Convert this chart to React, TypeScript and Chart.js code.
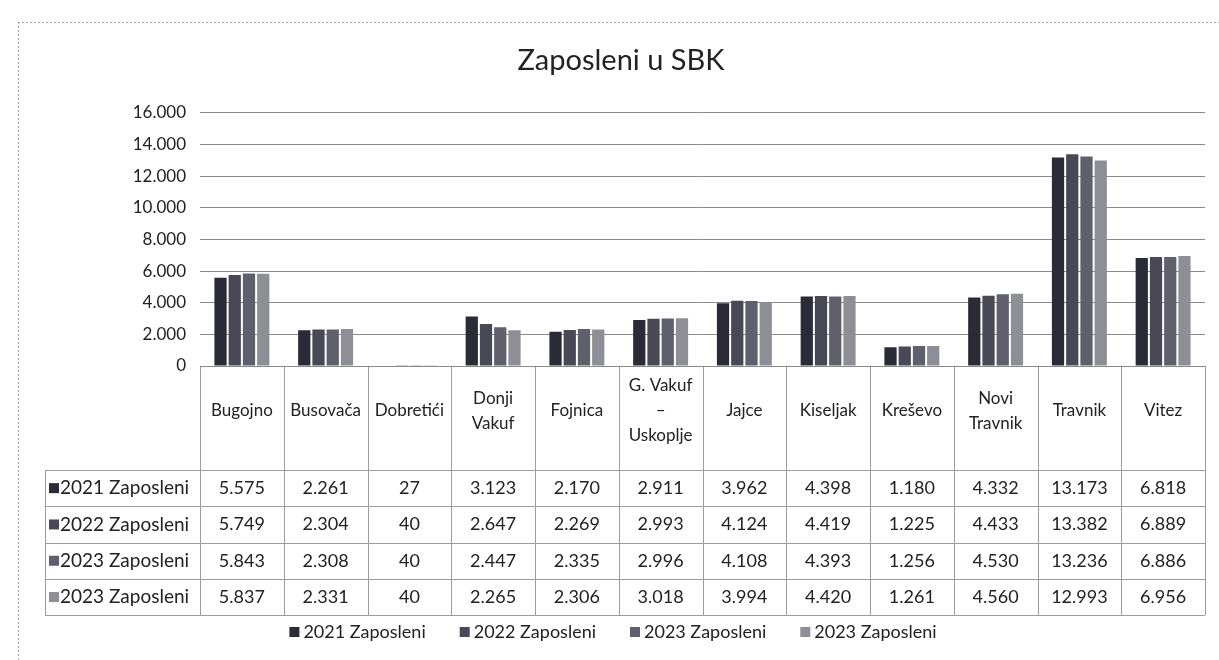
import React, { useEffect, useRef } from "react";
import { Chart, registerables } from "chart.js";

Chart.register(...registerables);

const categories: string[][] = [
  ["Bugojno"],
  ["Busovača"],
  ["Dobretići"],
  ["Donji", "Vakuf"],
  ["Fojnica"],
  ["G. Vakuf", "–", "Uskoplje"],
  ["Jajce"],
  ["Kiseljak"],
  ["Kreševo"],
  ["Novi", "Travnik"],
  ["Travnik"],
  ["Vitez"],
];
const seriesNames = ["2021 Zaposleni", "2022 Zaposleni", "2023 Zaposleni", "2023 Zaposleni"];
const values2021 = [5575, 2261, 27, 3123, 2170, 2911, 3962, 4398, 1180, 4332, 13173, 6818];
const values2022 = [5749, 2304, 40, 2647, 2269, 2993, 4124, 4419, 1225, 4433, 13382, 6889];
const values2023a = [5843, 2308, 40, 2447, 2335, 2996, 4108, 4393, 1256, 4530, 13236, 6886];
const values2023b = [5837, 2331, 40, 2265, 2306, 3018, 3994, 4420, 1261, 4560, 12993, 6956];
const yMin = 0;
const yMax = 16000;
const yStep = 2000;

const seriesValues = [values2021, values2022, values2023a, values2023b];
const seriesColors = ["#2b2b37", "#494955", "#60606c", "#8e8e96"];

const FONT = "Lato, 'Noto Sans', sans-serif";
const fmt = (v: number) => v.toLocaleString("de-DE");

const tablePlugin = {
  id: "dataTable",
  beforeDraw(chart: any) {
    const ctx = chart.ctx;
    ctx.save();
    ctx.fillStyle = "#ffffff";
    ctx.fillRect(0, 0, chart.width, chart.height);
    ctx.strokeStyle = "#a8a8a8";
    ctx.lineWidth = 1;
    ctx.setLineDash([2, 2]);
    ctx.beginPath();
    ctx.moveTo(18.5, 22);
    ctx.lineTo(18.5, chart.height);
    ctx.moveTo(18, 22.5);
    ctx.lineTo(chart.width, 22.5);
    ctx.stroke();
    ctx.restore();
  },
  afterDraw(chart: any) {
    const ctx = chart.ctx;
    const area = chart.chartArea;
    const xs = chart.scales.x;
    const n = categories.length;
    const colW = (area.right - area.left) / n;
    const rowLabelLeft = 45;
    const headerTop = area.bottom;
    const headerBottom = 470;
    const rowH = 36.3;
    const rowLines = [0, 1, 2, 3, 4].map((i) => headerBottom + i * rowH);
    const tableBottom = rowLines[rowLines.length - 1];

    ctx.save();
    ctx.strokeStyle = "#9c9c9c";
    ctx.lineWidth = 1;
    ctx.beginPath();
    for (let i = 0; i <= n; i++) {
      const xx = Math.round(xs.getPixelForValue(0) - colW / 2 + i * colW) + 0.5;
      ctx.moveTo(xx, headerTop);
      ctx.lineTo(xx, tableBottom);
    }
    ctx.moveTo(rowLabelLeft + 0.5, headerBottom);
    ctx.lineTo(rowLabelLeft + 0.5, tableBottom);
    for (const y of rowLines) {
      ctx.moveTo(rowLabelLeft, Math.round(y) + 0.5);
      ctx.lineTo(area.right, Math.round(y) + 0.5);
    }
    ctx.stroke();

    ctx.strokeStyle = "#8a8a8a";
    ctx.beginPath();
    ctx.moveTo(area.left, Math.round(area.bottom) + 0.5);
    ctx.lineTo(area.right, Math.round(area.bottom) + 0.5);
    ctx.stroke();

    // header labels
    ctx.fillStyle = "#222222";
    ctx.textAlign = "center";
    ctx.textBaseline = "middle";
    ctx.font = `17px ${FONT}`;
    const headerCenter = 411;
    const lh = 25;
    categories.forEach((lines, i) => {
      const cx = xs.getPixelForValue(i);
      const start = headerCenter - ((lines.length - 1) * lh) / 2;
      lines.forEach((t, j) => ctx.fillText(t, cx, start + j * lh));
    });

    // rows
    seriesValues.forEach((vals, r) => {
      const cy = (rowLines[r] + rowLines[r + 1]) / 2;
      ctx.font = `18px ${FONT}`;
      vals.forEach((v, i) => {
        ctx.fillStyle = "#222222";
        ctx.textAlign = "center";
        ctx.fillText(fmt(v), xs.getPixelForValue(i), cy);
      });
      ctx.fillStyle = seriesColors[r];
      ctx.fillRect(49, cy - 5, 10, 10);
      ctx.fillStyle = "#222222";
      ctx.textAlign = "left";
      ctx.font = `19px ${FONT}`;
      ctx.fillText(seriesNames[r], 60, cy);
    });

    // legend
    ctx.font = `18px ${FONT}`;
    const box = 10;
    const gapBox = 4;
    const gapItem = 34;
    const widths = seriesNames.map((s) => box + gapBox + ctx.measureText(s).width);
    const total = widths.reduce((a, b) => a + b, 0) + gapItem * (widths.length - 1);
    let lx = 613 - total / 2;
    const ly = 632;
    seriesNames.forEach((s, i) => {
      ctx.fillStyle = seriesColors[i];
      ctx.fillRect(lx, ly - box / 2, box, box);
      ctx.fillStyle = "#222222";
      ctx.textAlign = "left";
      ctx.fillText(s, lx + box + gapBox, ly);
      lx += widths[i] + gapItem;
    });
    ctx.restore();
  },
};

export default function App() {
  const ref = useRef<HTMLCanvasElement | null>(null);
  useEffect(() => {
    document.body.style.margin = "0";
    const canvas = ref.current;
    if (!canvas) return;
    const chart = new Chart(canvas, {
      type: "bar",
      data: {
        labels: categories.map((c) => c.join(" ")),
        datasets: seriesValues.map((vals, i) => ({
          label: seriesNames[i],
          data: vals,
          backgroundColor: seriesColors[i],
          borderWidth: 0,
          categoryPercentage: 0.68,
          barPercentage: 0.86,
        })),
      },
      options: {
        responsive: false,
        animation: false,
        devicePixelRatio: 1,
        layout: { padding: { left: 37, right: 14, top: 0, bottom: 294 } },
        plugins: {
          legend: { display: false },
          tooltip: { enabled: false },
          title: {
            display: true,
            text: "Zaposleni u SBK",
            color: "#222222",
            font: { family: FONT, size: 29, weight: "normal" },
            padding: { top: 43, bottom: 35 },
          },
        },
        scales: {
          x: { display: false },
          y: {
            min: yMin,
            max: yMax,
            afterFit: (s: any) => {
              s.width = 163;
            },
            ticks: {
              stepSize: yStep,
              color: "#222222",
              padding: 14,
              font: { family: FONT, size: 17 },
              callback: (v: any) => fmt(Number(v)),
            },
            grid: { color: "#8a8a8a", drawTicks: false },
            border: { display: false },
          },
        },
      },
      plugins: [tablePlugin],
    });
    return () => chart.destroy();
  }, []);
  return (
    <div style={{ width: 1219, height: 660, background: "#fff" }}>
      <canvas ref={ref} width={1219} height={660} style={{ display: "block" }} />
    </div>
  );
}
